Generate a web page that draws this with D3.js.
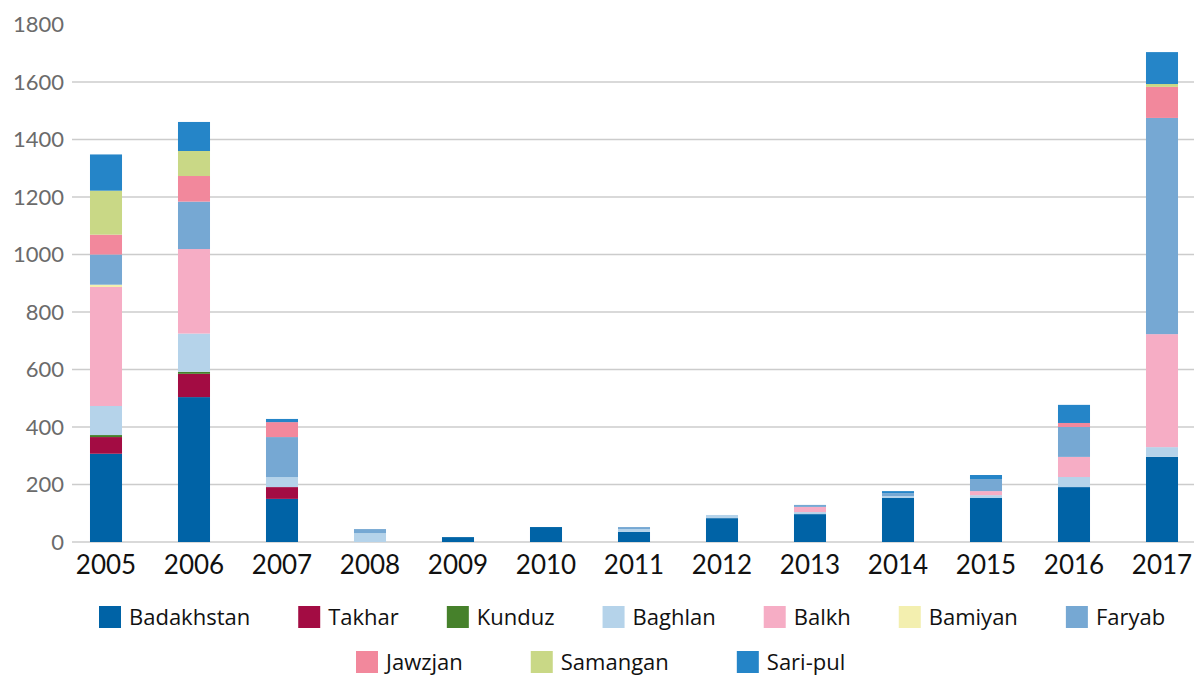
<!DOCTYPE html>
<html>
<head>
<meta charset="utf-8">
<script src="https://cdn.jsdelivr.net/npm/d3@7"></script>
<style>
  html, body { margin: 0; padding: 0; background: #ffffff; }
  svg { display: block; }
</style>
</head>
<body>
<svg id="chart" width="1194" height="677"></svg>
<script>
const years = ["2005","2006","2007","2008","2009","2010","2011","2012","2013","2014","2015","2016","2017"];
const provinces = ["Badakhstan","Takhar","Kunduz","Baghlan","Balkh","Bamiyan","Faryab","Jawzjan","Samangan","Sari-pul"];
const colors = ["#0063a6","#a30c43","#46812b","#b5d3ea","#f6adc5","#f3efaf","#76a8d3","#f2889c","#c9d886","#2585c8"];
const badakhstan = [307, 504, 150, 0, 17, 52, 35, 83, 97, 153, 153, 191, 296];
const takhar     = [ 58,  81,  41, 0,  0,  0,  0,  0,  0,   0,   0,   0,   0];
const kunduz     = [  7,   7,   0, 0,  0,  0,  0,  0,  0,   0,   0,   0,   0];
const baghlan    = [101, 133,  35, 31, 0,  0, 10, 11,  7,   7,  10,  35,  34];
const balkh      = [414, 294,   0, 0,  0,  0,  0,  0, 18,   0,  14,  70, 393];
const bamiyan    = [  8,   0,   0, 0,  0,  0,  0,  0,  0,   0,   0,   0,   0];
const faryab     = [105, 165, 139, 14, 0,  0,  7,  0,  7,  10,  42, 104, 752];
const jawzjan    = [ 69,  89,  52, 0,  0,  0,  0,  0,  0,   0,   0,  14, 108];
const samangan   = [153,  87,   0, 0,  0,  0,  0,  0,  0,   0,   0,   0,  10];
const saripul    = [126, 101,  11, 0,  0,  0,  0,  0,  0,   7,  14,  63, 111];
const yTicks = [0, 200, 400, 600, 800, 1000, 1200, 1400, 1600, 1800];

const seriesValues = [badakhstan, takhar, kunduz, baghlan, balkh, bamiyan, faryab, jawzjan, samangan, saripul];
const table = years.map((y, i) => {
  const row = { year: y };
  provinces.forEach((p, k) => row[p] = seriesValues[k][i]);
  return row;
});

const svg = d3.select("#chart");
const x = d3.scaleBand().domain(years).range([62, 1206]).paddingInner(0.636).paddingOuter(0.318);
const y = d3.scaleLinear().domain([0, 1800]).range([542, 24.5]);
const color = d3.scaleOrdinal().domain(provinces).range(colors);

// gridlines
svg.append("g").selectAll("line")
  .data(yTicks.filter(t => t < 1800))
  .join("line")
  .attr("x1", 72).attr("x2", 1194)
  .attr("y1", d => y(d)).attr("y2", d => y(d))
  .attr("stroke", "#cccccc").attr("stroke-width", 1.5);

// y labels
svg.append("g").selectAll("text")
  .data(yTicks)
  .join("text")
  .attr("x", 64).attr("y", d => y(d))
  .attr("dy", "0.36em")
  .attr("text-anchor", "end")
  .attr("font-family", "Lato, 'Open Sans', sans-serif")
  .attr("font-size", 22)
  .attr("fill", "#6b6b6b")
  .text(d => d);

// stacked bars
const stack = d3.stack().keys(provinces)(table);
svg.append("g").selectAll("g")
  .data(stack)
  .join("g")
  .attr("fill", d => color(d.key))
  .selectAll("rect")
  .data(d => d)
  .join("rect")
  .attr("x", d => x(d.data.year))
  .attr("width", x.bandwidth())
  .attr("y", d => y(d[1]))
  .attr("height", d => Math.max(0, y(d[0]) - y(d[1])));

// x labels
svg.append("g").selectAll("text")
  .data(years)
  .join("text")
  .attr("x", d => x(d) + x.bandwidth() / 2)
  .attr("y", 574)
  .attr("text-anchor", "middle")
  .attr("font-family", "Lato, 'Open Sans', sans-serif")
  .attr("font-size", 26)
  .attr("fill", "#111111")
  .text(d => d);

// legend
const rows = [provinces.slice(0, 7), provinces.slice(7)];
const rowStart = [99, 356];
const rowGap = [48, 68];
const rowY = [617, 662];
rows.forEach((items, r) => {
  const g = svg.append("g").attr("transform", `translate(${rowStart[r]},${rowY[r]})`);
  let cx = 0;
  items.forEach(p => {
    const item = g.append("g").attr("transform", `translate(${cx},0)`);
    item.append("rect").attr("x", 0).attr("y", -11).attr("width", 22).attr("height", 22).attr("fill", color(p));
    const t = item.append("text").attr("x", 30).attr("y", 0).attr("dy", "0.35em")
      .attr("font-family", "'Open Sans', sans-serif").attr("font-size", 22)
      .attr("fill", "#111111").text(p);
    const w = t.node().getComputedTextLength();
    cx += 30 + w + rowGap[r];
  });
});
</script>
</body>
</html>
